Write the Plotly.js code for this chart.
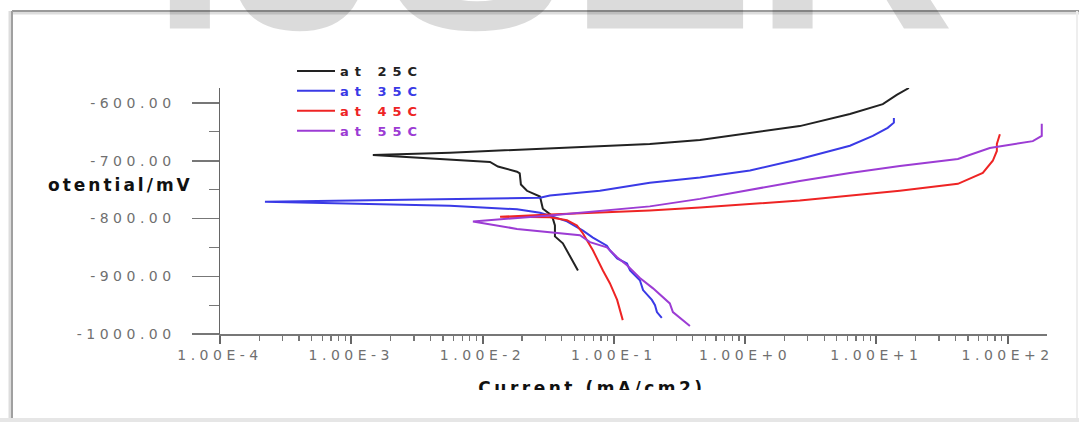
<!DOCTYPE html>
<html>
<head>
<meta charset="utf-8">
<script src="https://cdn.plot.ly/plotly-3.0.1.min.js"></script>
<style>
html,body{margin:0;padding:0;background:#fff;}
#chart{width:1079px;height:422px;}
</style>
</head>
<body>
<div id="chart"></div>
<script>
// ---- data ----
const seriesNames = ['at 25C', 'at 35C', 'at 45C', 'at 55C'];
const seriesColors = ['#222222', '#3a3ae6', '#ee2424', '#9c3cd4'];

// current density, mA/cm2 (cathodic end -> Ecorr -> anodic end)
const current25 = [0.0533,0.0463,0.0409,0.0356,0.0356,0.0338,0.0288,0.0274,0.0218,0.0196,0.0192,0.0183,0.0131,0.0114,0.00146,0.00565,0.0326,0.188,0.453,1.09,2.61,6.29,11.2,14.3,17.7];
const potential25 = [-890,-865,-843,-831,-812,-795,-783,-762,-752,-741,-722,-719,-710,-702,-690,-686,-678,-671,-664,-652,-640,-619,-602,-586,-574];

const current35 = [0.232,0.213,0.206,0.195,0.167,0.158,0.133,0.126,0.106,0.0933,0.0885,0.0826,0.0693,0.0582,0.0440,0.0326,0.0274,0.0183,0.00565,0.00022,0.00565,0.0274,0.0326,0.0783,0.188,0.453,1.09,2.61,6.29,9.4,12.2,13.6,13.6];
const potential35 = [-972,-962,-950,-941,-924,-907,-890,-878,-869,-855,-847,-843,-833,-821,-805,-795,-790,-784,-778,-771,-767,-764,-760,-752,-738,-729,-717,-697,-674,-657,-643,-634,-626];

const current45 = [0.117,0.106,0.0933,0.0826,0.0693,0.0582,0.0524,0.0440,0.0326,0.0136,0.0326,0.188,0.453,2.61,15.1,41.8,64.7,77.1,82.8,82.8,87.3];
const potential45 = [-976,-941,-912,-890,-855,-826,-812,-803,-798,-797,-793,-786,-781,-769,-752,-740,-721,-700,-683,-671,-654];

const current55 = [0.380,0.282,0.267,0.199,0.158,0.126,0.106,0.0885,0.0658,0.0552,0.0183,0.00845,0.0326,0.188,0.453,2.61,6.29,15.1,41.8,73.1,155.6,182,182];
const potential55 = [-986,-962,-947,-921,-903,-881,-867,-850,-841,-829,-818,-805,-795,-779,-766,-735,-721,-709,-697,-678,-666,-657,-636];

const xTickVals = [1e-4, 1e-3, 1e-2, 1e-1, 1, 10, 100];
const xTickText = ['1.00E-4','1.00E-3','1.00E-2','1.00E-1','1.00E+0','1.00E+1','1.00E+2'];
const yTickVals = [-1000, -900, -800, -700, -600];
const yTickText = ['-1000.00','-900.00','-800.00','-700.00','-600.00'];

const xTitle = 'Current (mA/cm2)';
const yTitle = 'otential/mV';
const watermark = 'IJSER';

// ---- build ----
const xs = [current25, current35, current45, current55];
const ys = [potential25, potential35, potential45, potential55];
const sp = (t, s) => '<span style="letter-spacing:' + s + 'px">' + t + '</span>';

const traces = seriesNames.map((n, i) => ({
  x: xs[i], y: ys[i], type: 'scatter', mode: 'lines',
  name: '<span style="color:' + seriesColors[i] + ';letter-spacing:6px">' + n + '</span>',
  line: {color: seriesColors[i], width: 2}
}));

// minor log ticks 2..9 x 10^k
const minorX = [];
for (let k = -4; k <= 2; k++) for (let d = 2; d <= 9; d++) { const v = d * Math.pow(10, k); if (v < 199) minorX.push(v); }

// pixel -> paper helpers for decorations (plot area 220..1047 x 88..334)
const L = 220, R = 32, T = 88, B = 88, W = 1079, H = 422;
const pw = W - L - R, ph = H - T - B;
const px = v => (v - L) / pw;
const py = v => (H - B - v) / ph;

const tickFont = {family: 'DejaVu Sans, sans-serif', size: 14, color: '#707070'};

const layout = {
  width: W, height: H,
  margin: {l: L, r: R, t: T, b: B, pad: 0},
  paper_bgcolor: '#ffffff', plot_bgcolor: '#ffffff',
  showlegend: true,
  legend: {
    x: px(292), y: py(56), xanchor: 'left', yanchor: 'top',
    bgcolor: 'rgba(0,0,0,0)', borderwidth: 0,
    font: {family: 'DejaVu Sans, sans-serif', size: 13, weight: 'bold', color: '#222'},
    itemwidth: 38
  },
  xaxis: {
    type: 'log', range: [-4, 2.3],
    tickmode: 'array', tickvals: xTickVals, ticktext: xTickText.map(t => sp(t, 4.5)),
    ticks: 'outside', ticklen: 8, tickwidth: 2, tickcolor: '#666',
    minor: {tickmode: 'array', tickvals: minorX, ticks: 'outside', ticklen: 5, tickwidth: 1.2, tickcolor: '#777', showgrid: false},
    showline: true, linecolor: '#777', linewidth: 1.5,
    showgrid: false, zeroline: false,
    tickfont: tickFont
  },
  yaxis: {
    range: [-1000, -574],
    tickmode: 'array', tickvals: yTickVals, ticktext: yTickText.map(t => sp(t, 4.5)),
    ticks: 'outside', ticklen: 27, tickwidth: 1.5, tickcolor: '#777',
    minor: {tickmode: 'linear', tick0: -1000, dtick: 50, ticks: 'outside', ticklen: 10, tickwidth: 1.2, tickcolor: '#777', showgrid: false},
    showline: true, linecolor: '#666', linewidth: 1.5,
    showgrid: false, zeroline: false,
    ticklabelstandoff: 13,
    tickfont: tickFont
  },
  shapes: [
    // outer frame of the figure
    {type: 'line', xref: 'paper', yref: 'paper', x0: px(12), x1: px(1079), y0: py(13), y1: py(13), line: {color: '#dddddd', width: 3}},
    {type: 'line', xref: 'paper', yref: 'paper', x0: px(12), x1: px(1079), y0: py(11), y1: py(11), line: {color: '#9a9a9a', width: 2}},
    {type: 'line', xref: 'paper', yref: 'paper', x0: px(10), x1: px(10), y0: py(11), y1: py(419), line: {color: '#dddddd', width: 3}},
    {type: 'line', xref: 'paper', yref: 'paper', x0: px(12), x1: px(12), y0: py(11), y1: py(419), line: {color: '#a0a0a0', width: 2}},
    {type: 'line', xref: 'paper', yref: 'paper', x0: px(1077), x1: px(1077), y0: py(11), y1: py(419), line: {color: '#eeeeee', width: 2}},
    {type: 'rect', xref: 'paper', yref: 'paper', x0: px(0), x1: px(1079), y0: py(418), y1: py(422), fillcolor: '#e6e6e6', line: {width: 0}}
  ],
  annotations: [
    {text: '<b>' + watermark + '</b>', xref: 'paper', yref: 'paper', x: px(553), y: py(34),
     xanchor: 'center', yanchor: 'bottom', valign: 'middle', height: 200, width: 920, showarrow: false,
     font: {family: 'Liberation Sans, Arial, sans-serif', size: 278, color: 'rgba(0,0,0,0.14)'}},
    {text: sp(yTitle, 3), xref: 'paper', yref: 'paper', x: px(120), y: py(185),
     xanchor: 'center', yanchor: 'middle', showarrow: false,
     font: {family: 'DejaVu Sans, sans-serif', size: 17, weight: 'bold', color: '#111'}},
    {text: sp(xTitle, 3.5), xref: 'paper', yref: 'paper', x: px(592), y: py(376),
     xanchor: 'center', yanchor: 'top', valign: 'top', height: 12, width: 260, showarrow: false,
     font: {family: 'DejaVu Sans, sans-serif', size: 17, weight: 'bold', color: '#111'}}
  ]
};

Plotly.newPlot('chart', traces, layout, {displayModeBar: false, staticPlot: true});
</script>
</body>
</html>
